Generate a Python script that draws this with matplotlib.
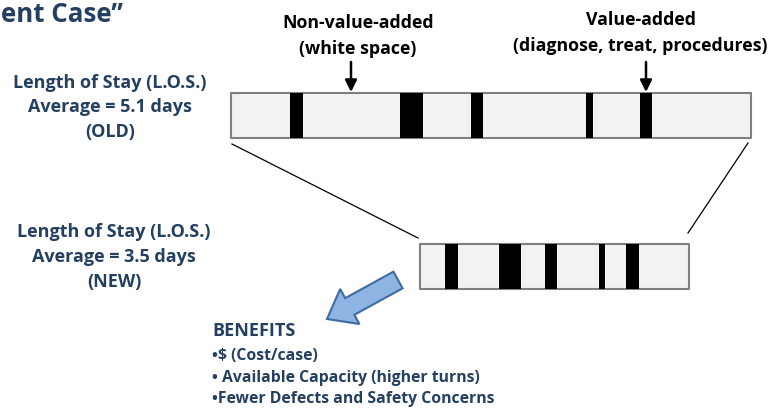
import matplotlib
matplotlib.use("Agg")
import matplotlib.pyplot as plt
from matplotlib.patches import FancyArrow

# segments of the patient stay: (start, width) in pixels along the bar
old_bar = (231, 520)
old_value_added = [(290, 13), (400, 23), (471, 12), (586, 7), (640, 12)]
new_bar = (420, 269)
new_value_added = [(445, 13), (499, 22), (545, 12), (599, 6), (626, 13)]

old_label = ["Length of Stay (L.O.S.)", "Average = 5.1 days", "(OLD)"]
new_label = ["Length of Stay (L.O.S.)", "Average = 3.5 days", "(NEW)"]
benefits = ["BENEFITS", "•$ (Cost/case)", "• Available Capacity (higher turns)",
            "•Fewer Defects and Safety Concerns"]

NAVY = "#243F60"
FONT = "Open Sans"

fig = plt.figure(figsize=(7.71, 4.08), dpi=100)
ax = fig.add_axes([0, 0, 1, 1])
ax.set_xlim(0, 771)
ax.set_ylim(408, 0)
ax.axis("off")
renderer = fig.canvas.get_renderer()


def fit_size(s, width_px):
    # font size that makes s about width_px wide
    t = ax.text(0, 0, s, fontsize=10, fontweight="bold", family=FONT)
    w = t.get_window_extent(renderer).width
    t.remove()
    return 10 * width_px / w


# the two bars
ax.broken_barh([old_bar], (93, 45), facecolors="#F2F2F2", edgecolors="#7F7F7F", linewidth=1.5)
ax.broken_barh(old_value_added, (93, 45), facecolors="black")
ax.broken_barh([new_bar], (244, 45), facecolors="#F2F2F2", edgecolors="#7F7F7F", linewidth=1.5)
ax.broken_barh(new_value_added, (244, 45), facecolors="black")

# zoom lines between bars
ax.plot([232, 418], [144, 238], color="black", lw=0.9)
ax.plot([748, 688], [143, 233], color="black", lw=0.9)

# pointer arrows
for x in (351, 646):
    ax.annotate("", xy=(x, 92), xytext=(x, 62),
                arrowprops=dict(arrowstyle="-|>,head_length=0.7,head_width=0.35",
                                color="black", lw=1.8, shrinkA=0, shrinkB=0))

top_size = fit_size("(diagnose, treat, procedures)", 255)
ax.text(358, 23, "Non-value-added", ha="center", va="center", color="black",
        fontsize=top_size, fontweight="bold", family=FONT)
ax.text(358, 49, "(white space)", ha="center", va="center", color="black",
        fontsize=top_size, fontweight="bold", family=FONT)
ax.text(641, 20, "Value-added", ha="center", va="center", color="black",
        fontsize=top_size, fontweight="bold", family=FONT)
ax.text(640, 46, "(diagnose, treat, procedures)", ha="center", va="center", color="black",
        fontsize=top_size, fontweight="bold", family=FONT)

los_size = fit_size(old_label[0], 194)
for i, s in enumerate(old_label):
    ax.text(110, 83 + 24.5 * i, s, ha="center", va="center", color=NAVY,
            fontsize=los_size, fontweight="bold", family=FONT)
for i, s in enumerate(new_label):
    ax.text(114, 232 + 25 * i, s, ha="center", va="center", color=NAVY,
            fontsize=los_size, fontweight="bold", family=FONT)

# big blue arrow
ax.add_patch(FancyArrow(398, 280, -71, 39, width=19, head_width=40, head_length=26,
                        length_includes_head=True, fc="#8DB4E2", ec="#3F6C9F", lw=1.5))

head_size = fit_size(benefits[0], 83)
item_size = fit_size(benefits[3], 281)
for i, s in enumerate(benefits):
    ax.text(212, [336, 360, 382, 403][i], s, ha="left", va="baseline", color=NAVY,
            fontsize=head_size if i == 0 else item_size, fontweight="bold", family=FONT)

ax.text(1, 22, "ent Case\u201d", ha="left", va="baseline", color=NAVY,
        fontsize=fit_size("ent Case\u201d", 122), fontweight="bold", family=FONT)

fig.savefig("out.png", dpi=100)
